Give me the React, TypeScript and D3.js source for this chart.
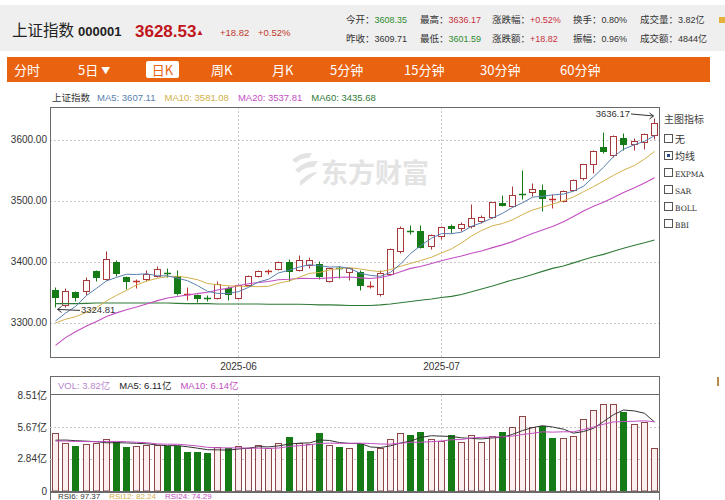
import React from "react";
import * as d3 from "d3";

// ---------- DATA ----------
const dates = [
  "2025-05-07","2025-05-08","2025-05-09","2025-05-12","2025-05-13","2025-05-14","2025-05-15","2025-05-16","2025-05-19","2025-05-20",
  "2025-05-21","2025-05-22","2025-05-23","2025-05-26","2025-05-27","2025-05-28","2025-05-29","2025-05-30","2025-06-03","2025-06-04",
  "2025-06-05","2025-06-06","2025-06-09","2025-06-10","2025-06-11","2025-06-12","2025-06-13","2025-06-16","2025-06-17","2025-06-18",
  "2025-06-19","2025-06-20","2025-06-23","2025-06-24","2025-06-25","2025-06-26","2025-06-27","2025-06-30","2025-07-01","2025-07-02",
  "2025-07-03","2025-07-04","2025-07-07","2025-07-08","2025-07-09","2025-07-10","2025-07-11","2025-07-14","2025-07-15","2025-07-16",
  "2025-07-17","2025-07-18","2025-07-21","2025-07-22","2025-07-23","2025-07-24","2025-07-25","2025-07-28","2025-07-29","2025-07-30",
];
const opens = [
  3354, 3329, 3350, 3351, 3385, 3372, 3399, 3374, 3366, 3371,
  3377, 3382, 3377, 3345, 3345, 3341, 3340, 3357, 3340, 3362,
  3377, 3383, 3388, 3399, 3386, 3395, 3396, 3368, 3390, 3383,
  3383, 3359, 3347, 3380, 3417, 3451, 3451, 3425, 3442, 3458,
  3455, 3459, 3467, 3474, 3497, 3492, 3512, 3514, 3518, 3502,
  3500, 3518, 3537, 3560, 3589, 3576, 3604, 3594, 3596, 3608.35,
];
const highs = [
  3358, 3357, 3351, 3374, 3386, 3417, 3402, 3376, 3371, 3386,
  3393, 3389, 3386, 3359, 3347, 3346, 3368, 3360, 3364, 3378,
  3387, 3388, 3401, 3405, 3411, 3408, 3401, 3390, 3393, 3392,
  3387, 3369, 3386, 3423, 3458, 3460, 3460, 3446, 3459, 3462,
  3465, 3495, 3476, 3498, 3510, 3524, 3550, 3530, 3527, 3511,
  3518, 3536, 3560, 3583, 3613, 3608, 3611, 3603, 3612, 3636.17,
];
const lows = [
  3324.81, 3326, 3335, 3346, 3368, 3370, 3377, 3355, 3356, 3368,
  3375, 3374, 3345, 3337, 3333, 3335, 3339, 3337, 3338, 3360,
  3374, 3379, 3386, 3368, 3384, 3390, 3371, 3367, 3373, 3370,
  3353, 3357, 3343, 3378, 3415, 3446, 3422, 3421, 3438, 3447,
  3450, 3456, 3463, 3472, 3492, 3490, 3503, 3508, 3483, 3488,
  3498, 3516, 3535, 3545, 3578, 3572, 3584, 3584, 3585, 3601.59,
];
const closes = [
  3342.67, 3352.00, 3341.97, 3369.24, 3374.87, 3403.95, 3380.82, 3367.46, 3367.58, 3380.48,
  3387.57, 3380.19, 3348.37, 3346.84, 3340.69, 3339.93, 3363.45, 3347.49, 3361.98, 3376.20,
  3384.10, 3385.36, 3399.77, 3384.82, 3402.32, 3402.66, 3377.00, 3388.81, 3387.40, 3388.81,
  3362.11, 3359.90, 3381.58, 3420.57, 3455.97, 3448.45, 3424.23, 3444.43, 3457.75, 3454.79,
  3461.15, 3472.32, 3473.13, 3497.48, 3493.05, 3509.68, 3510.18, 3519.65, 3505.00, 3503.78,
  3516.83, 3534.48, 3559.79, 3581.86, 3582.30, 3605.73, 3593.66, 3597.94, 3609.71, 3628.53,
];
// closes before the visible window (for the moving averages)
const priorCloses = [
  3096.58, 3145.55, 3186.81, 3223.64, 3238.23, 3262.81, 3267.66, 3276.00, 3280.34, 3276.73,
  3291.43, 3299.76, 3296.36, 3297.29, 3295.06, 3288.41, 3286.65, 3279.03, 3316.11,
];
const ma60 = [
  3331, 3331, 3331, 3331.5, 3332, 3332, 3332, 3332, 3332, 3332,
  3332, 3332, 3331.5, 3331, 3331, 3331, 3330.5, 3330.5, 3330.5, 3330.5,
  3330.5, 3330, 3330, 3330, 3330, 3329.5, 3329, 3329, 3328.5, 3328,
  3328, 3328, 3329, 3330.5, 3332.5, 3334.5, 3336.5, 3338.5, 3341, 3343,
  3346, 3350.5, 3355, 3360, 3365, 3370, 3374, 3379, 3384, 3389,
  3393, 3398, 3403, 3408, 3412, 3417, 3422, 3427, 3431, 3435.68,
];
// volume in 亿
const volumes = [
  5.11, 4.28, 4.02, 4.17, 4.28, 4.61, 4.32, 3.93, 3.99, 4.08,
  4.08, 3.99, 3.99, 3.46, 3.46, 3.40, 3.93, 3.84, 3.99, 3.84,
  4.05, 3.84, 4.28, 4.81, 4.23, 4.17, 5.11, 4.08, 3.87, 3.84,
  4.17, 3.55, 3.84, 4.61, 5.11, 4.96, 5.23, 4.58, 4.43, 4.96,
  4.37, 4.94, 4.37, 4.90, 5.23, 5.65, 6.65, 5.65, 5.76, 4.67,
  4.67, 4.90, 6.35, 7.18, 7.68, 7.71, 6.97, 5.94, 6.14, 3.82,
];
const priorVolumes = [4.3, 4.4, 4.2, 4.5, 4.4, 4.2, 4.3, 4.4, 4.5];

const priceTicks = [3300, 3400, 3500, 3600];
const volTicks = [0, 2.84, 5.67, 8.51];
const volTickLabels = ["0", "2.84亿", "5.67亿", "8.51亿"];
const monthTicks = [
  { date: "2025-06-03", label: "2025-06" },
  { date: "2025-07-01", label: "2025-07" },
];
const toolbarItems = [
  { label: "分时", x: 14 },
  { label: "5日", x: 78, arrow: true },
  { label: "日K", x: 150, active: true },
  { label: "周K", x: 211 },
  { label: "月K", x: 272 },
  { label: "5分钟", x: 330 },
  { label: "15分钟", x: 404 },
  { label: "30分钟", x: 480 },
  { label: "60分钟", x: 560 },
];
const indicatorItems = ["无", "均线", "EXPMA", "SAR", "BOLL", "BBI"];

// ---------- STYLE ----------
const FONT = "'Liberation Sans', 'Noto Sans CJK SC', sans-serif";
const CJK = "'Noto Sans CJK SC', sans-serif";
const RED = "#a8393a";
const GREEN = "#167a16";
const C_MA5 = "#5a7fb0";
const C_MA10 = "#d2b04c";
const C_MA20 = "#c24ec2";
const C_MA60 = "#2f7a37";

function movingAvg(all: number[], offset: number, n: number, len: number) {
  const out: number[] = [];
  for (let i = 0; i < len; i++) {
    const end = offset + i;
    out.push(d3.mean(all.slice(end - n + 1, end + 1)) as number);
  }
  return out;
}

export default function App() {
  const L = 50, R = 659, T = 107, B = 357;
  const xs = d3.scaleBand<string>().domain(dates).range([L, R]).paddingInner(0.4).paddingOuter(0.2);
  const xc = (d: string) => Math.round((xs(d) as number) + xs.bandwidth() / 2);
  const y = d3.scaleLinear().domain([3243.3, 3654.2]).range([B, T]);
  const VB = 491, VT = 395;
  const yv = d3.scaleLinear().domain([0, 8.51]).range([VB, VT]);

  const allC = priorCloses.concat(closes);
  const off = priorCloses.length;
  const ma5 = movingAvg(allC, off, 5, closes.length);
  const ma10 = movingAvg(allC, off, 10, closes.length);
  const ma20 = movingAvg(allC, off, 20, closes.length);
  const allV = priorVolumes.concat(volumes);
  const vma5 = movingAvg(allV, priorVolumes.length, 5, volumes.length);
  const vma10 = movingAvg(allV, priorVolumes.length, 10, volumes.length);

  const line = d3.line<number>().x((_, i) => xc(dates[i]) + 0.5).y((v) => y(v));
  const vline = d3.line<number>().x((_, i) => xc(dates[i]) + 0.5).y((v) => yv(v));

  const cr = (v: number) => Math.round(v) + 0.5;

  const hiIdx = d3.maxIndex(highs);
  const loIdx = d3.minIndex(lows);
  const hiX = xc(dates[hiIdx]) + 0.5, hiY = y(highs[hiIdx]);
  const loX = xc(dates[loIdx]) + 0.5, loY = y(lows[loIdx]);

  return (
    <svg width={725} height={500} style={{ position: "absolute", left: 0, top: 0, background: "#fff" }} fontFamily={FONT}>
      <defs>
        <clipPath id="main"><rect x={L} y={T} width={R - L} height={B - T} /></clipPath>
        <clipPath id="vol"><rect x={L} y={VT} width={R - L} height={VB - VT + 1} /></clipPath>
      </defs>
      <rect x={0} y={0} width={725} height={500} fill="#fff" />

      {/* header */}
      <rect x={0} y={5} width={725} height={46} fill="#efefef" />
      <text x={12} y={36} fontSize={15.5} fill="#222" fontFamily={CJK}>上证指数</text>
      <text x={78} y={36} fontSize={13} fontWeight="bold" fill="#222">000001</text>
      <text x={135} y={37} fontSize={17} fontWeight="bold" fill="#c0161c">3628.53</text>
      <text x={196} y={35} fontSize={8} fill="#c0161c">▲</text>
      <text x={220} y={36} fontSize={9.5} fill="#c0392b">+18.82</text>
      <text x={258} y={36} fontSize={9.5} fill="#c0392b">+0.52%</text>
      {[
        { x: 346, y: 23, l: "今开：", v: "3608.35", c: "#2e8b2e" },
        { x: 420, y: 23, l: "最高：", v: "3636.17", c: "#c8323c" },
        { x: 492, y: 23, l: "涨跌幅：", v: "+0.52%", c: "#c8323c" },
        { x: 573, y: 23, l: "换手：", v: "0.80%", c: "#333" },
        { x: 640, y: 23, l: "成交量：", v: "3.82亿", c: "#333" },
        { x: 346, y: 42, l: "昨收：", v: "3609.71", c: "#333" },
        { x: 420, y: 42, l: "最低：", v: "3601.59", c: "#2e8b2e" },
        { x: 492, y: 42, l: "涨跌额：", v: "+18.82", c: "#c8323c" },
        { x: 573, y: 42, l: "振幅：", v: "0.96%", c: "#333" },
        { x: 640, y: 42, l: "成交额：", v: "4844亿", c: "#333" },
      ].map((it, i) => (
        <text key={i} x={it.x} y={it.y} fontSize={9.5} fill="#333">
          <tspan fontFamily={CJK}>{it.l}</tspan>
          <tspan fill={it.c} fontSize={9}>{it.v}</tspan>
        </text>
      ))}
      <rect x={719} y={17} width={6} height={6} fill="#e2b23c" />

      {/* toolbar */}
      <rect x={7} y={57} width={703} height={25} fill="#e9620f" />
      {toolbarItems.map((t, i) =>
        t.active ? (
          <g key={i}>
            <rect x={t.x - 4} y={61} width={33} height={17} rx={2} fill="#fff" />
            <text x={t.x + 12.5} y={75} fontSize={13} textAnchor="middle" fill="#e9620f" fontFamily={CJK}>{t.label}</text>
          </g>
        ) : (
          <text key={i} x={t.x} y={75} fontSize={13} fill="#fff" fontFamily={CJK}>
            {t.label}
            {t.arrow && <tspan dx={3} fontSize={9} dy={-1}>▼</tspan>}
          </text>
        )
      )}

      {/* main legend */}
      <text x={52} y={101} fontSize={9.5} fill="#333">
        <tspan fontFamily={CJK}>上证指数</tspan>
        <tspan dx={7} fill={C_MA5}>MA5: 3607.11</tspan>
        <tspan dx={9} fill={C_MA10}>MA10: 3581.08</tspan>
        <tspan dx={9} fill={C_MA20}>MA20: 3537.81</tspan>
        <tspan dx={9} fill={C_MA60}>MA60: 3435.68</tspan>
      </text>

      {/* watermark */}
      <g fill="#e3e3e3">
        <path d="M292,160 Q300,152 312,153 L309,158 Q300,158 296,163 Z" />
        <path d="M295,170 Q305,160 318,161 L314,167 Q303,167 299,173 Z" />
        <path d="M300,181 Q309,172 318,172 L300,186 Z" />
        <text x={321} y={183} fontSize={27} fontWeight="bold" fontFamily={CJK}>东方财富</text>
      </g>

      {/* grid main */}
      {priceTicks.map((t) => (
        <line key={t} x1={L} x2={R} y1={cr(y(t))} y2={cr(y(t))} stroke="#c8c8c8" strokeDasharray="2,2" />
      ))}
      {monthTicks.map((m) => (
        <line key={m.date} x1={xc(m.date) + 0.5} x2={xc(m.date) + 0.5} y1={T} y2={B} stroke="#c8c8c8" strokeDasharray="2,2" />
      ))}
      {priceTicks.map((t) => (
        <text key={t} x={47} y={y(t)} dy="0.35em" fontSize={10} textAnchor="end" fill="#333">{d3.format(".2f")(t)}</text>
      ))}
      {monthTicks.map((m) => (
        <text key={m.label} x={xc(m.date) + 0.5} y={370} fontSize={10} textAnchor="middle" fill="#333">{m.label}</text>
      ))}

      {/* candles */}
      <g clipPath="url(#main)">
        {dates.map((d, i) => {
          const o = opens[i], c = closes[i];
          const up = c >= o;
          const xi = xc(d);
          const col = up ? RED : GREEN;
          const top = cr(y(Math.max(o, c)));
          const bot = cr(y(Math.min(o, c)));
          const yh = cr(y(highs[i]));
          const yl = cr(y(lows[i]));
          const wx = xi + 0.5;
          if (bot - top < 1.5) {
            return (
              <g key={d} stroke={up ? "#c0302c" : GREEN}>
                <line x1={wx} x2={wx} y1={yh} y2={yl} />
                <line x1={xi - 3} x2={xi + 4} y1={top} y2={top} strokeWidth={1.5} />
              </g>
            );
          }
          return up ? (
            <g key={d} stroke={col}>
              <line x1={wx} x2={wx} y1={yh} y2={top} />
              <line x1={wx} x2={wx} y1={bot} y2={yl} />
              <rect x={xi - 2.5} y={top} width={6} height={bot - top} fill="#fff" />
            </g>
          ) : (
            <g key={d} stroke={col}>
              <line x1={wx} x2={wx} y1={yh} y2={yl} />
              <rect x={xi - 2.5} y={top} width={6} height={bot - top} fill={col} />
            </g>
          );
        })}
        <path d={line(ma60) as string} fill="none" stroke={C_MA60} strokeWidth={1.1} />
        <path d={line(ma20) as string} fill="none" stroke={C_MA20} strokeWidth={1.1} />
        <path d={line(ma10) as string} fill="none" stroke={C_MA10} strokeWidth={1} />
        <path d={line(ma5) as string} fill="none" stroke={C_MA5} strokeWidth={1} />
      </g>

      {/* high / low labels */}
      <text x={630} y={hiY - 1} fontSize={9.5} textAnchor="end" fill="#333">{d3.format(".2f")(highs[hiIdx])}</text>
      <g stroke="#333" fill="none">
        <line x1={631} y1={hiY - 4} x2={hiX - 1} y2={hiY - 2} />
        <path d={`M${hiX - 5},${hiY - 5} L${hiX - 1},${hiY - 2} L${hiX - 5},${hiY + 1}`} />
      </g>
      <text x={81} y={loY + 6} fontSize={9.5} fill="#333">{d3.format(".2f")(lows[loIdx])}</text>
      <g stroke="#333" fill="none">
        <line x1={80} y1={loY + 3} x2={loX + 2} y2={loY + 2} />
        <path d={`M${loX + 6},${loY - 1} L${loX + 2},${loY + 2} L${loX + 6},${loY + 5}`} />
      </g>

      {/* main frame */}
      <rect x={L + 0.5} y={T + 0.5} width={R - L} height={B - T} fill="none" stroke="#6a6a6a" />

      {/* indicator panel */}
      <text x={664} y={123} fontSize={10} fill="#444" fontFamily={CJK}>主图指标</text>
      {indicatorItems.map((t, i) => {
        const cy = 139 + i * 17;
        const latin = /[A-Z]/.test(t);
        return (
          <g key={t}>
            <rect x={664.5} y={cy - 4.5} width={8} height={8} fill="#fff" stroke="#555" />
            {t === "均线" && <rect x={667} y={cy - 2} width={3} height={3} fill="#2c4a8c" />}
            <text x={675} y={cy + 4} fontSize={latin ? 7.5 : 10} fill="#333"
              fontFamily={latin ? "'DejaVu Serif', serif" : CJK}>{t}</text>
          </g>
        );
      })}

      {/* volume panel */}
      <rect x={L + 0.5} y={376.5} width={R - L} height={VB - 376 + 1} fill="none" stroke="#6a6a6a" />
      <line x1={L} x2={R} y1={394.5} y2={394.5} stroke="#6a6a6a" />
      <text x={58} y={389} fontSize={9.5} fill="#333">
        <tspan fill="#b987cf">VOL: 3.82亿</tspan>
        <tspan dx={9} fill="#222">MA5: 6.11亿</tspan>
        <tspan dx={9} fill={C_MA20}>MA10: 6.14亿</tspan>
      </text>
      {volTicks.slice(1, 3).map((t) => (
        <line key={t} x1={L} x2={R} y1={cr(yv(t))} y2={cr(yv(t))} stroke="#c8c8c8" strokeDasharray="2,2" />
      ))}
      {monthTicks.map((m) => (
        <line key={m.date} x1={xc(m.date) + 0.5} x2={xc(m.date) + 0.5} y1={VT} y2={VB} stroke="#c8c8c8" strokeDasharray="2,2" />
      ))}
      {volTicks.map((t, i) => (
        <text key={t} x={47} y={yv(t)} dy="0.35em" fontSize={10} textAnchor="end" fill="#333">{volTickLabels[i]}</text>
      ))}
      <g clipPath="url(#vol)">
        {dates.map((d, i) => {
          const prev = i === 0 ? priorCloses[priorCloses.length - 1] : closes[i - 1];
          const up = closes[i] >= prev;
          const xi = xc(d);
          const top = cr(yv(volumes[i]));
          return (
            <rect key={d} x={xi - 2.5} y={top} width={6} height={VB - top} fill={up ? "#fcefef" : GREEN} stroke={up ? "#8c4848" : GREEN} />
          );
        })}
        <path d={vline(vma5) as string} fill="none" stroke="#333" strokeWidth={1} />
        <path d={vline(vma10) as string} fill="none" stroke={C_MA20} strokeWidth={1} />
      </g>
      <line x1={L} x2={R} y1={491.5} y2={491.5} stroke="#6a6a6a" />
      <line x1={L + 0.5} x2={L + 0.5} y1={491} y2={500} stroke="#6a6a6a" />
      <line x1={R + 0.5} x2={R + 0.5} y1={491} y2={500} stroke="#6a6a6a" />
      <text x={58} y={498.5} fontSize={8}>
        <tspan fill="#333">RSI6: 97.37</tspan>
        <tspan dx={9} fill={C_MA10}>RSI12: 82.24</tspan>
        <tspan dx={9} fill={C_MA20}>RSI24: 74.29</tspan>
      </text>
      <rect x={717} y={377} width={2} height={9} fill="#b88a4a" />
    </svg>
  );
}
